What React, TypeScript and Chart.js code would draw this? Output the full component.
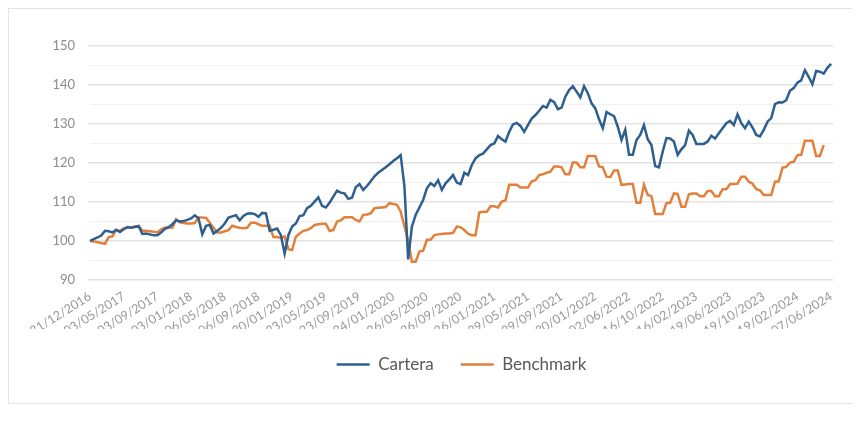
import React, { useEffect, useRef } from 'react';
import { Chart, registerables } from 'chart.js';

Chart.register(...registerables);

const tickLabels = [
  '31/12/2016', '03/05/2017', '03/09/2017', '03/01/2018', '06/05/2018', '06/09/2018',
  '20/01/2019', '23/05/2019', '23/09/2019', '24/01/2020', '26/05/2020', '26/09/2020',
  '26/01/2021', '29/05/2021', '29/09/2021', '30/01/2022', '02/06/2022', '16/10/2022',
  '16/02/2023', '19/06/2023', '19/10/2023', '19/02/2024', '07/06/2024',
];
const TICK_EVERY = 9;

const cartera = [
  100.0, 100.5, 100.9, 101.4, 102.6, 102.5, 102.2, 102.9, 102.3, 103.0,
  103.6, 103.4, 103.6, 103.8, 101.8, 101.9, 101.7, 101.5, 101.5, 102.2,
  103.1, 103.5, 104.3, 105.3, 105.0, 105.1, 105.4, 105.8, 106.6, 105.8,
  101.7, 103.9, 104.1, 101.9, 102.6, 103.4, 104.5, 106.0, 106.3, 106.6,
  105.3, 106.4, 107.0, 107.1, 106.9, 106.2, 107.2, 107.1, 102.6, 102.9,
  103.2, 101.5, 96.8, 101.5, 103.7, 104.5, 106.4, 106.6, 108.4, 109.0,
  110.1, 111.2, 109.0, 108.6, 109.8, 111.4, 112.9, 112.4, 112.2, 110.8,
  111.1, 113.8, 114.6, 113.1, 114.1, 115.3, 116.6, 117.5, 118.2, 118.9,
  119.7, 120.5, 121.2, 122.0, 114.1, 95.3, 103.7, 106.7, 108.6, 110.5,
  113.5, 114.8, 114.1, 115.6, 113.1, 114.8, 115.8, 116.9, 115.0, 114.6,
  117.5, 116.9, 119.5, 121.2, 122.0, 122.4, 123.5, 124.6, 125.0, 126.9,
  126.1, 125.5, 128.0, 129.9, 130.3, 129.5, 128.0, 129.7, 131.4, 132.3,
  133.4, 134.6, 134.2, 136.2, 135.6, 133.8, 134.2, 137.0, 138.7, 139.7,
  138.3, 136.8, 139.7, 137.9, 135.3, 134.0, 131.2, 128.9, 133.1, 132.5,
  132.0, 129.3, 125.9, 128.5, 122.1, 122.1, 125.9, 127.2, 129.7, 126.1,
  124.6, 119.2, 118.9, 122.9, 126.4, 126.3, 125.5, 122.1, 123.5, 124.6,
  128.3, 127.2, 124.9, 124.9, 124.9, 125.5, 127.0, 126.3, 127.6, 128.9,
  130.2, 130.8, 129.7, 132.5, 130.2, 128.9, 130.6, 129.1, 127.2, 126.8,
  128.5, 130.6, 131.5, 135.1, 135.6, 135.5, 136.1, 138.5, 139.2, 140.6,
  141.2, 143.8, 142.1, 140.2, 143.6, 143.4, 142.9, 144.4, 145.4,
];

const benchmark = [
  100.0, 99.9, 99.7, 99.5, 99.3, 101.0, 101.2, 102.8, 102.6, 103.2,
  103.4, 103.5, 103.7, 103.9, 102.6, 102.6, 102.5, 102.4, 102.2, 103.0,
  103.4, 103.6, 103.4, 105.6, 104.8, 104.6, 104.5, 104.5, 104.6, 106.0,
  106.0, 105.9, 104.7, 103.4, 102.2, 102.2, 102.5, 102.8, 103.9, 103.6,
  103.4, 103.3, 103.4, 104.7, 104.7, 104.3, 103.9, 103.9, 103.9, 101.0,
  101.0, 100.8, 101.2, 97.9, 97.7, 101.1, 101.9, 102.6, 102.8, 103.3,
  104.1, 104.3, 104.4, 104.4, 102.6, 102.8, 105.0, 105.3, 106.1, 106.1,
  106.1, 105.4, 105.0, 106.7, 106.8, 107.1, 108.4, 108.5, 108.6, 108.7,
  109.7, 109.5, 109.3, 107.5, 103.8, 100.0, 94.7, 94.7, 97.3, 97.5,
  100.3, 100.3, 101.5, 101.7, 101.8, 101.9, 101.9, 102.1, 103.7, 103.5,
  102.8, 101.9, 101.5, 101.5, 107.3, 107.5, 107.5, 108.9, 108.9, 108.6,
  110.1, 110.4, 114.4, 114.4, 114.4, 113.7, 113.7, 113.7, 115.3, 115.6,
  116.9, 117.1, 117.5, 117.8, 119.1, 119.1, 118.9, 117.1, 117.1, 120.1,
  120.1, 118.9, 118.9, 121.8, 121.8, 121.8, 119.1, 118.9, 116.5, 116.4,
  118.1, 118.1, 114.4, 114.5, 114.6, 114.6, 109.8, 109.8, 114.4, 111.8,
  111.5, 106.9, 106.9, 106.9, 109.7, 109.8, 112.2, 112.1, 108.8, 108.8,
  112.0, 112.2, 112.2, 111.5, 111.5, 112.8, 112.8, 111.5, 111.5, 113.3,
  113.3, 114.6, 114.6, 114.7, 116.5, 116.5, 115.2, 114.7, 113.3, 113.0,
  111.8, 111.8, 111.8, 115.2, 115.3, 118.8, 119.0, 120.1, 120.3, 122.0,
  122.1, 125.7, 125.7, 125.7, 121.8, 121.8, 124.6,
];

const BLUE = '#2d5f8f';
const ORANGE = '#e2803b';
const FONT = 'Lato, "Open Sans", sans-serif';

const W = 843;
const H = 394;

export default function App() {
  const ref = useRef<HTMLCanvasElement>(null);

  useEffect(() => {
    if (!ref.current) return;
    const chart = new Chart(ref.current, {
      type: 'line',
      data: {
        datasets: [
          {
            label: 'Cartera',
            data: cartera.map((v, i) => ({ x: i, y: v })),
            borderColor: BLUE,
            backgroundColor: BLUE,
            borderWidth: 2.5,
            pointRadius: 0,
            tension: 0,
            fill: false,
          },
          {
            label: 'Benchmark',
            data: benchmark.map((v, i) => ({ x: i, y: v })),
            borderColor: ORANGE,
            backgroundColor: ORANGE,
            borderWidth: 2.5,
            pointRadius: 0,
            tension: 0,
            fill: false,
          },
        ],
      },
      options: {
        responsive: false,
        animation: false,
        events: [],
        layout: { padding: { left: 0, right: 19, top: 37, bottom: 20 } },
        plugins: {
          tooltip: { enabled: false },
          legend: {
            position: 'bottom',
            fullSize: false,
            labels: {
              usePointStyle: true,
              pointStyle: 'line',
              pointStyleWidth: 33,
              padding: 27,
              color: '#595959',
              font: { family: FONT, size: 17 },
            },
          },
        },
        scales: {
          x: {
            type: 'linear',
            min: 0,
            max: 198.5,
            afterBuildTicks: (scale: any) => {
              scale.ticks = tickLabels.map((_, j) => ({ value: j * TICK_EVERY }));
            },
            afterFit: (scale: any) => {
              scale.height = 49;
            },
            grid: { display: false, drawTicks: false },
            border: { display: false },
            ticks: {
              autoSkip: false,
              minRotation: 32,
              maxRotation: 32,
              padding: 9,
              color: '#999999',
              font: { family: FONT, size: 12.5 },
              callback: (v: any) => tickLabels[Math.round(Number(v) / TICK_EVERY)] ?? '',
            },
          },
          y: {
            min: 90,
            max: 150,
            afterFit: (scale: any) => {
              scale.width = 81;
            },
            border: { display: false },
            grid: {
              drawTicks: true,
              tickLength: 2,
              color: (ctx: any) => (ctx.tick && ctx.tick.value % 10 === 0 ? '#e2e2e2' : '#f1f1f1'),
              tickColor: (ctx: any) => (ctx.tick && ctx.tick.value % 10 === 0 ? '#e2e2e2' : 'rgba(0,0,0,0)'),
              lineWidth: (ctx: any) => (ctx.tick && ctx.tick.value % 10 === 0 ? 1.5 : 1),
            },
            ticks: {
              stepSize: 5,
              padding: 13,
              color: '#8c8c8c',
              font: { family: FONT, size: 13 },
              callback: (v: any) => (Number(v) % 10 === 0 ? String(v) : ''),
            },
          },
        },
      },
    });
    return () => chart.destroy();
  }, []);

  return (
    <div
      style={{
        width: W,
        height: H,
        border: '1px solid #e3e3e3',
        background: '#ffffff',
      }}
    >
      <canvas ref={ref} width={W} height={H} style={{ display: 'block' }} />
    </div>
  );
}
